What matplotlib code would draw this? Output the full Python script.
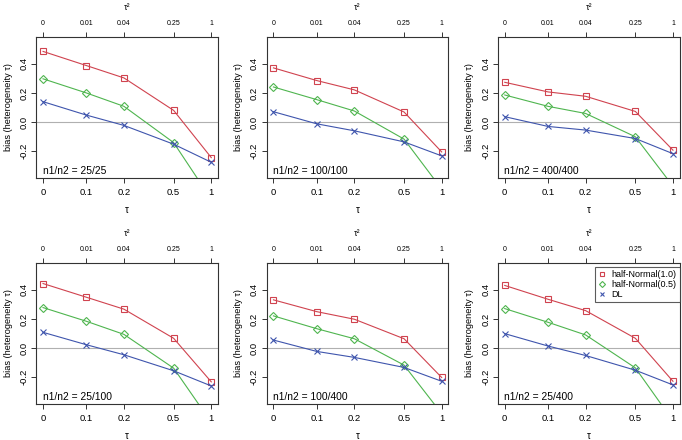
import numpy as np
import matplotlib
matplotlib.use("Agg")
import matplotlib.pyplot as plt

plt.rcParams['font.family'] = ['Liberation Sans', 'DejaVu Sans']

# ---------------- data ----------------
tau = [0, 0.1, 0.2, 0.5, 1]
tau_labels = ["0", "0.1", "0.2", "0.5", "1"]
tau2_labels = ["0", "0.01", "0.04", "0.25", "1"]
y_ticks = [-0.2, 0.0, 0.2, 0.4]
y_tick_labels = ["-0.2", "0.0", "0.2", "0.4"]

panel_titles = ["n1/n2 = 25/25", "n1/n2 = 100/100", "n1/n2 = 400/400",
                "n1/n2 = 25/100", "n1/n2 = 100/400", "n1/n2 = 25/400"]
series_names = ["half-Normal(1.0)", "half-Normal(0.5)", "DL"]

hn10 = [
    [0.485, 0.388, 0.303, 0.080, -0.244],
    [0.372, 0.285, 0.221, 0.069, -0.205],
    [0.273, 0.207, 0.177, 0.073, -0.193],
    [0.443, 0.349, 0.267, 0.067, -0.232],
    [0.331, 0.250, 0.198, 0.064, -0.202],
    [0.430, 0.335, 0.257, 0.067, -0.228],
]
hn05 = [
    [0.297, 0.200, 0.108, -0.141, -0.53],
    [0.241, 0.154, 0.076, -0.117, -0.46],
    [0.186, 0.108, 0.059, -0.101, -0.44],
    [0.278, 0.184, 0.094, -0.138, -0.51],
    [0.221, 0.133, 0.064, -0.117, -0.45],
    [0.271, 0.177, 0.090, -0.136, -0.50],
]
dl = [
    [0.140, 0.048, -0.023, -0.152, -0.276],
    [0.071, -0.012, -0.060, -0.136, -0.232],
    [0.037, -0.030, -0.055, -0.113, -0.217],
    [0.108, 0.023, -0.046, -0.156, -0.260],
    [0.055, -0.023, -0.064, -0.133, -0.228],
    [0.099, 0.014, -0.051, -0.152, -0.253],
]

# ---------------- styles ----------------
colors = ["#d0434f", "#4fb54f", "#3f55ad"]
markers = ["s", "D", "x"]
msizes = [3.9, 3.6, 4.0]

# x scale: logarithmic in tau, with tau = 0 placed one step to the left
LOG01 = np.log(0.1)
L0 = LOG01 - 0.798


def fwd(t):
    t = np.asarray(t, dtype=float)
    lin = L0 + t * (LOG01 - L0) / 0.1
    lg = np.log(np.clip(t, 0.1, None))
    return np.where(t < 0.1, lin, lg)


def inv(y):
    y = np.asarray(y, dtype=float)
    lin = (y - L0) * 0.1 / (LOG01 - L0)
    ex = np.exp(np.clip(y, LOG01, 50))
    return np.where(y < LOG01, lin, ex)


span = 0 - L0
pad = 0.04 * span
xlim = (float(inv(L0 - pad)), float(inv(pad)))
ylim = (-0.386, 0.586)

W, H = 682, 440
fig = plt.figure(figsize=(W / 100, H / 100), dpi=100)

col_left = [36.3, 266.7, 498.0]
row_top = [36.7, 262.7]
aw, ah = 181.7, 141.6

box_col = "#333333"
tick_fs = 6.8
top_fs = 5.0

for i in range(6):
    r, c = divmod(i, 3)
    left = col_left[c] / W
    bottom = 1 - (row_top[r] + ah) / H
    ax = fig.add_axes([left, bottom, aw / W, ah / H])
    ax.set_xscale('function', functions=(fwd, inv))
    ax.set_xlim(xlim)
    ax.set_ylim(ylim)
    ax.axhline(0, color="#b0b0b0", lw=0.8, zorder=1)
    for k, data in enumerate([hn10, hn05, dl]):
        ax.plot(tau, data[i], color=colors[k], lw=0.8, marker=markers[k],
                ms=msizes[k], mfc='none', mec=colors[k], mew=0.8, zorder=3,
                label=series_names[k])
    ax.set_xticks(tau, labels=tau_labels)
    ax.minorticks_off()
    ax.set_yticks(y_ticks, labels=y_tick_labels)
    for lab in ax.get_yticklabels():
        lab.set_rotation(90)
        lab.set_va('center')
    ax.tick_params(axis='both', direction='out', length=3.6, width=0.7,
                   colors=box_col, labelcolor='black', labelsize=tick_fs)
    ax.tick_params(axis='x', pad=3.5)
    ax.tick_params(axis='y', pad=2.0)
    for sp in ax.spines.values():
        sp.set_color(box_col)
        sp.set_linewidth(0.8)
    ax.set_xlabel("τ", fontsize=7.0, va='center')
    ax.xaxis.set_label_coords(0.5, -31.7 / ah)
    ax.set_ylabel("bias (heterogeneity τ)", fontsize=6.6, va='center')
    ax.yaxis.set_label_coords(-28.0 / aw, 0.5)
    ax.text(6.4 / aw, 7.8 / ah, panel_titles[i], transform=ax.transAxes,
            ha='left', va='center', fontsize=7.4)

    ax2 = ax.twiny()
    ax2.set_xscale('function', functions=(fwd, inv))
    ax2.set_xlim(xlim)
    ax2.set_xticks(tau, labels=tau2_labels)
    ax2.minorticks_off()
    ax2.tick_params(axis='x', direction='out', length=3.6, width=0.7,
                    colors=box_col, labelcolor='black', labelsize=top_fs, pad=3.5)
    for sp in ax2.spines.values():
        sp.set_visible(False)
    ax2.set_xlabel("τ²", fontsize=6.4, va='center')
    ax2.xaxis.set_label_coords(0.5, 1 + 29.4 / ah)

    if i == 5:
        leg = ax.legend(loc='upper right', bbox_to_anchor=(0.999, 0.972),
                        borderaxespad=0, fontsize=6.5, frameon=True,
                        fancybox=False, handlelength=0.9, handletextpad=0.6,
                        labelspacing=0.12, borderpad=0.35, markerscale=0.85)
        for line in leg.get_lines():
            line.set_linestyle('none')
        leg.get_frame().set_edgecolor(box_col)
        leg.get_frame().set_linewidth(0.8)
        leg.set_zorder(5)

fig.savefig("out.png", dpi=100)
